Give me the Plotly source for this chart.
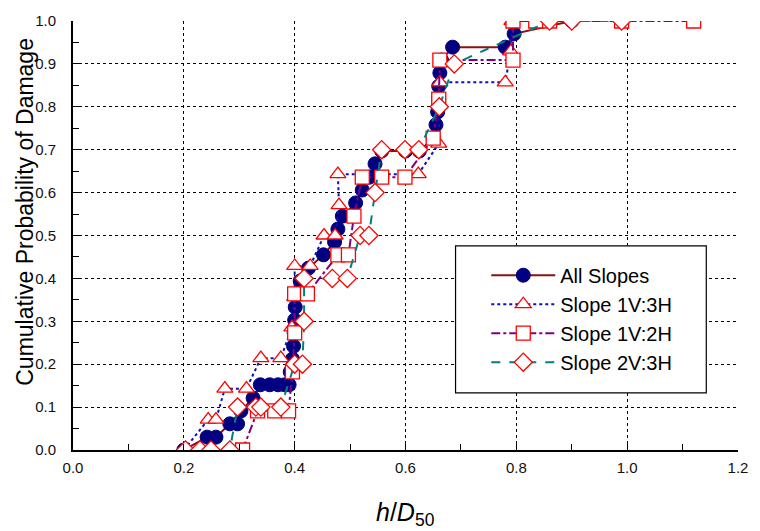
import plotly.graph_objects as go

# ---- data ----
all_x = [0.200, 0.242, 0.258, 0.283, 0.297, 0.303, 0.325, 0.338, 0.355, 0.370, 0.382, 0.390,
         0.392, 0.396, 0.398, 0.399, 0.400, 0.401, 0.404, 0.410, 0.425, 0.452, 0.472, 0.478,
         0.486, 0.510, 0.522, 0.535, 0.545, 0.557, 0.600, 0.625, 0.650, 0.655, 0.658, 0.660,
         0.660, 0.662, 0.665, 0.685, 0.780, 0.796, 0.900]
all_y = [0.000, 0.030, 0.030, 0.061, 0.061, 0.091, 0.121, 0.152, 0.152, 0.152, 0.152, 0.152,
         0.182, 0.212, 0.242, 0.273, 0.303, 0.333, 0.364, 0.394, 0.424, 0.455, 0.485, 0.515,
         0.545, 0.576, 0.606, 0.636, 0.667, 0.697, 0.697, 0.697, 0.727, 0.758, 0.788, 0.818,
         0.848, 0.879, 0.909, 0.939, 0.939, 0.970, 1.000]

s13_x = [0.200, 0.244, 0.258, 0.274, 0.313, 0.339, 0.375, 0.395, 0.400, 0.400, 0.428, 0.453,
         0.473, 0.480, 0.478, 0.623, 0.660, 0.662, 0.780, 0.790, 0.792]
s13_y = [0.000, 0.071, 0.071, 0.143, 0.143, 0.214, 0.214, 0.286, 0.357, 0.429, 0.429, 0.500,
         0.500, 0.571, 0.643, 0.643, 0.714, 0.857, 0.857, 0.929, 1.000]

s12_x = [0.306, 0.333, 0.364, 0.389, 0.396, 0.400, 0.400, 0.423, 0.478, 0.497, 0.507, 0.522,
         0.557, 0.599, 0.650, 0.660, 0.662, 0.794, 0.794, 0.835, 0.860, 0.990, 1.120]
s12_y = [0.000, 0.091, 0.091, 0.091, 0.182, 0.273, 0.364, 0.364, 0.455, 0.455, 0.545, 0.636,
         0.636, 0.636, 0.727, 0.818, 0.909, 0.909, 1.000, 1.000, 1.000, 1.000, 1.000]

s23_x = [0.203, 0.229, 0.249, 0.283, 0.297, 0.330, 0.339, 0.375, 0.400, 0.414, 0.417, 0.417,
         0.468, 0.495, 0.518, 0.534, 0.545, 0.557, 0.599, 0.624, 0.661, 0.688, 0.860, 0.900,
         0.990]
s23_y = [0.0, 0.0, 0.0, 0.0, 0.1, 0.1, 0.1, 0.1, 0.2, 0.2, 0.3, 0.4,
         0.4, 0.4, 0.5, 0.5, 0.6, 0.7, 0.7, 0.7, 0.8, 0.9, 1.0, 1.0,
         1.0]

x_ticks = [0.0, 0.2, 0.4, 0.6, 0.8, 1.0, 1.2]
y_ticks = [0.0, 0.1, 0.2, 0.3, 0.4, 0.5, 0.6, 0.7, 0.8, 0.9, 1.0]

FONT = "Arial, Liberation Sans, sans-serif"
RED = "#FF0000"

fig = go.Figure()
fig.add_trace(go.Scatter(
    x=all_x, y=all_y, name="All Slopes", mode="lines+markers",
    line=dict(color="#8B1010", width=2),
    marker=dict(symbol="circle", size=14, color="#000080", line=dict(color="#000080", width=1))))
fig.add_trace(go.Scatter(
    x=s13_x, y=s13_y, name="Slope 1V:3H", mode="lines+markers",
    line=dict(color="#1010B0", width=2, dash="dot"),
    marker=dict(symbol="triangle-up", size=14, color="white", line=dict(color=RED, width=1.3))))
fig.add_trace(go.Scatter(
    x=s12_x, y=s12_y, name="Slope 1V:2H", mode="lines+markers",
    line=dict(color="#800080", width=2, dash="dashdot"),
    marker=dict(symbol="square", size=14, color="white", line=dict(color=RED, width=1.3))))
fig.add_trace(go.Scatter(
    x=s23_x, y=s23_y, name="Slope 2V:3H", mode="lines+markers",
    line=dict(color="#008080", width=2, dash="dash"),
    marker=dict(symbol="diamond", size=14, color="white", line=dict(color=RED, width=1.3))))

PL, PR, PT, PB = 73, 744, 15, 450
W, H = 760, 531

def px(xp):
    return (xp - PL) / (PR - PL)

def py(yp):
    return (PB - yp) / (PB - PT)

fig.update_layout(
    width=W, height=H,
    margin=dict(l=PL, r=W - PR, t=PT, b=H - PB, pad=0),
    plot_bgcolor="white", paper_bgcolor="white",
    font=dict(family=FONT, color="black"),
    showlegend=True,
    legend=dict(x=px(490), y=py(253), xanchor="left", yanchor="top",
                font=dict(size=20, family=FONT, color="black"),
                bgcolor="rgba(0,0,0,0)", borderwidth=0, itemwidth=64,
                tracegroupgap=0),
    shapes=[dict(type="rect", xref="paper", yref="paper",
                 x0=px(459), x1=px(712), y0=py(392), y1=py(243),
                 line=dict(color="black", width=1.2), fillcolor="white", layer="above")],
    annotations=[
        dict(text="Cumulative Probability of Damage", xref="paper", yref="paper",
             x=px(25), y=py(208), xanchor="center", yanchor="middle", textangle=-90,
             showarrow=False, font=dict(size=23, family=FONT, color="black")),
        dict(text="<i>h</i>/<i>D</i><sub>50</sub>", xref="paper", yref="paper",
             x=px(408), y=py(515), xanchor="center", yanchor="middle",
             showarrow=False, font=dict(size=25, family=FONT, color="black")),
    ],
)

fig.update_xaxes(
    range=[0, 1.2], tickvals=x_ticks, ticktext=[f"{v:.1f}" for v in x_ticks],
    showline=True, linecolor="black", linewidth=2,
    showgrid=True, gridcolor="black", griddash="dot", gridwidth=1.3,
    zeroline=False, ticks="inside", ticklen=6, tickcolor="black",
    minor=dict(dtick=0.1, ticks="inside", ticklen=6, tickcolor="black", showgrid=False),
    tickfont=dict(size=15, family=FONT, color="#111"), ticklabelstandoff=3,
)
fig.update_yaxes(
    range=[0, 1.0], tickvals=y_ticks, ticktext=[f"{v:.1f}" for v in y_ticks],
    showline=True, linecolor="black", linewidth=2,
    showgrid=True, gridcolor="black", griddash="dot", gridwidth=1.3,
    zeroline=False, ticks="inside", ticklen=6, tickcolor="black",
    minor=dict(dtick=0.05, ticks="inside", ticklen=6, tickcolor="black", showgrid=False),
    tickfont=dict(size=15, family=FONT, color="#111"), ticklabelstandoff=12,
)

fig.write_html("out.html",
               config={"displayModeBar": False},
               post_script="document.body.style.margin='0px';"
                           "document.body.style.overflow='hidden';")
